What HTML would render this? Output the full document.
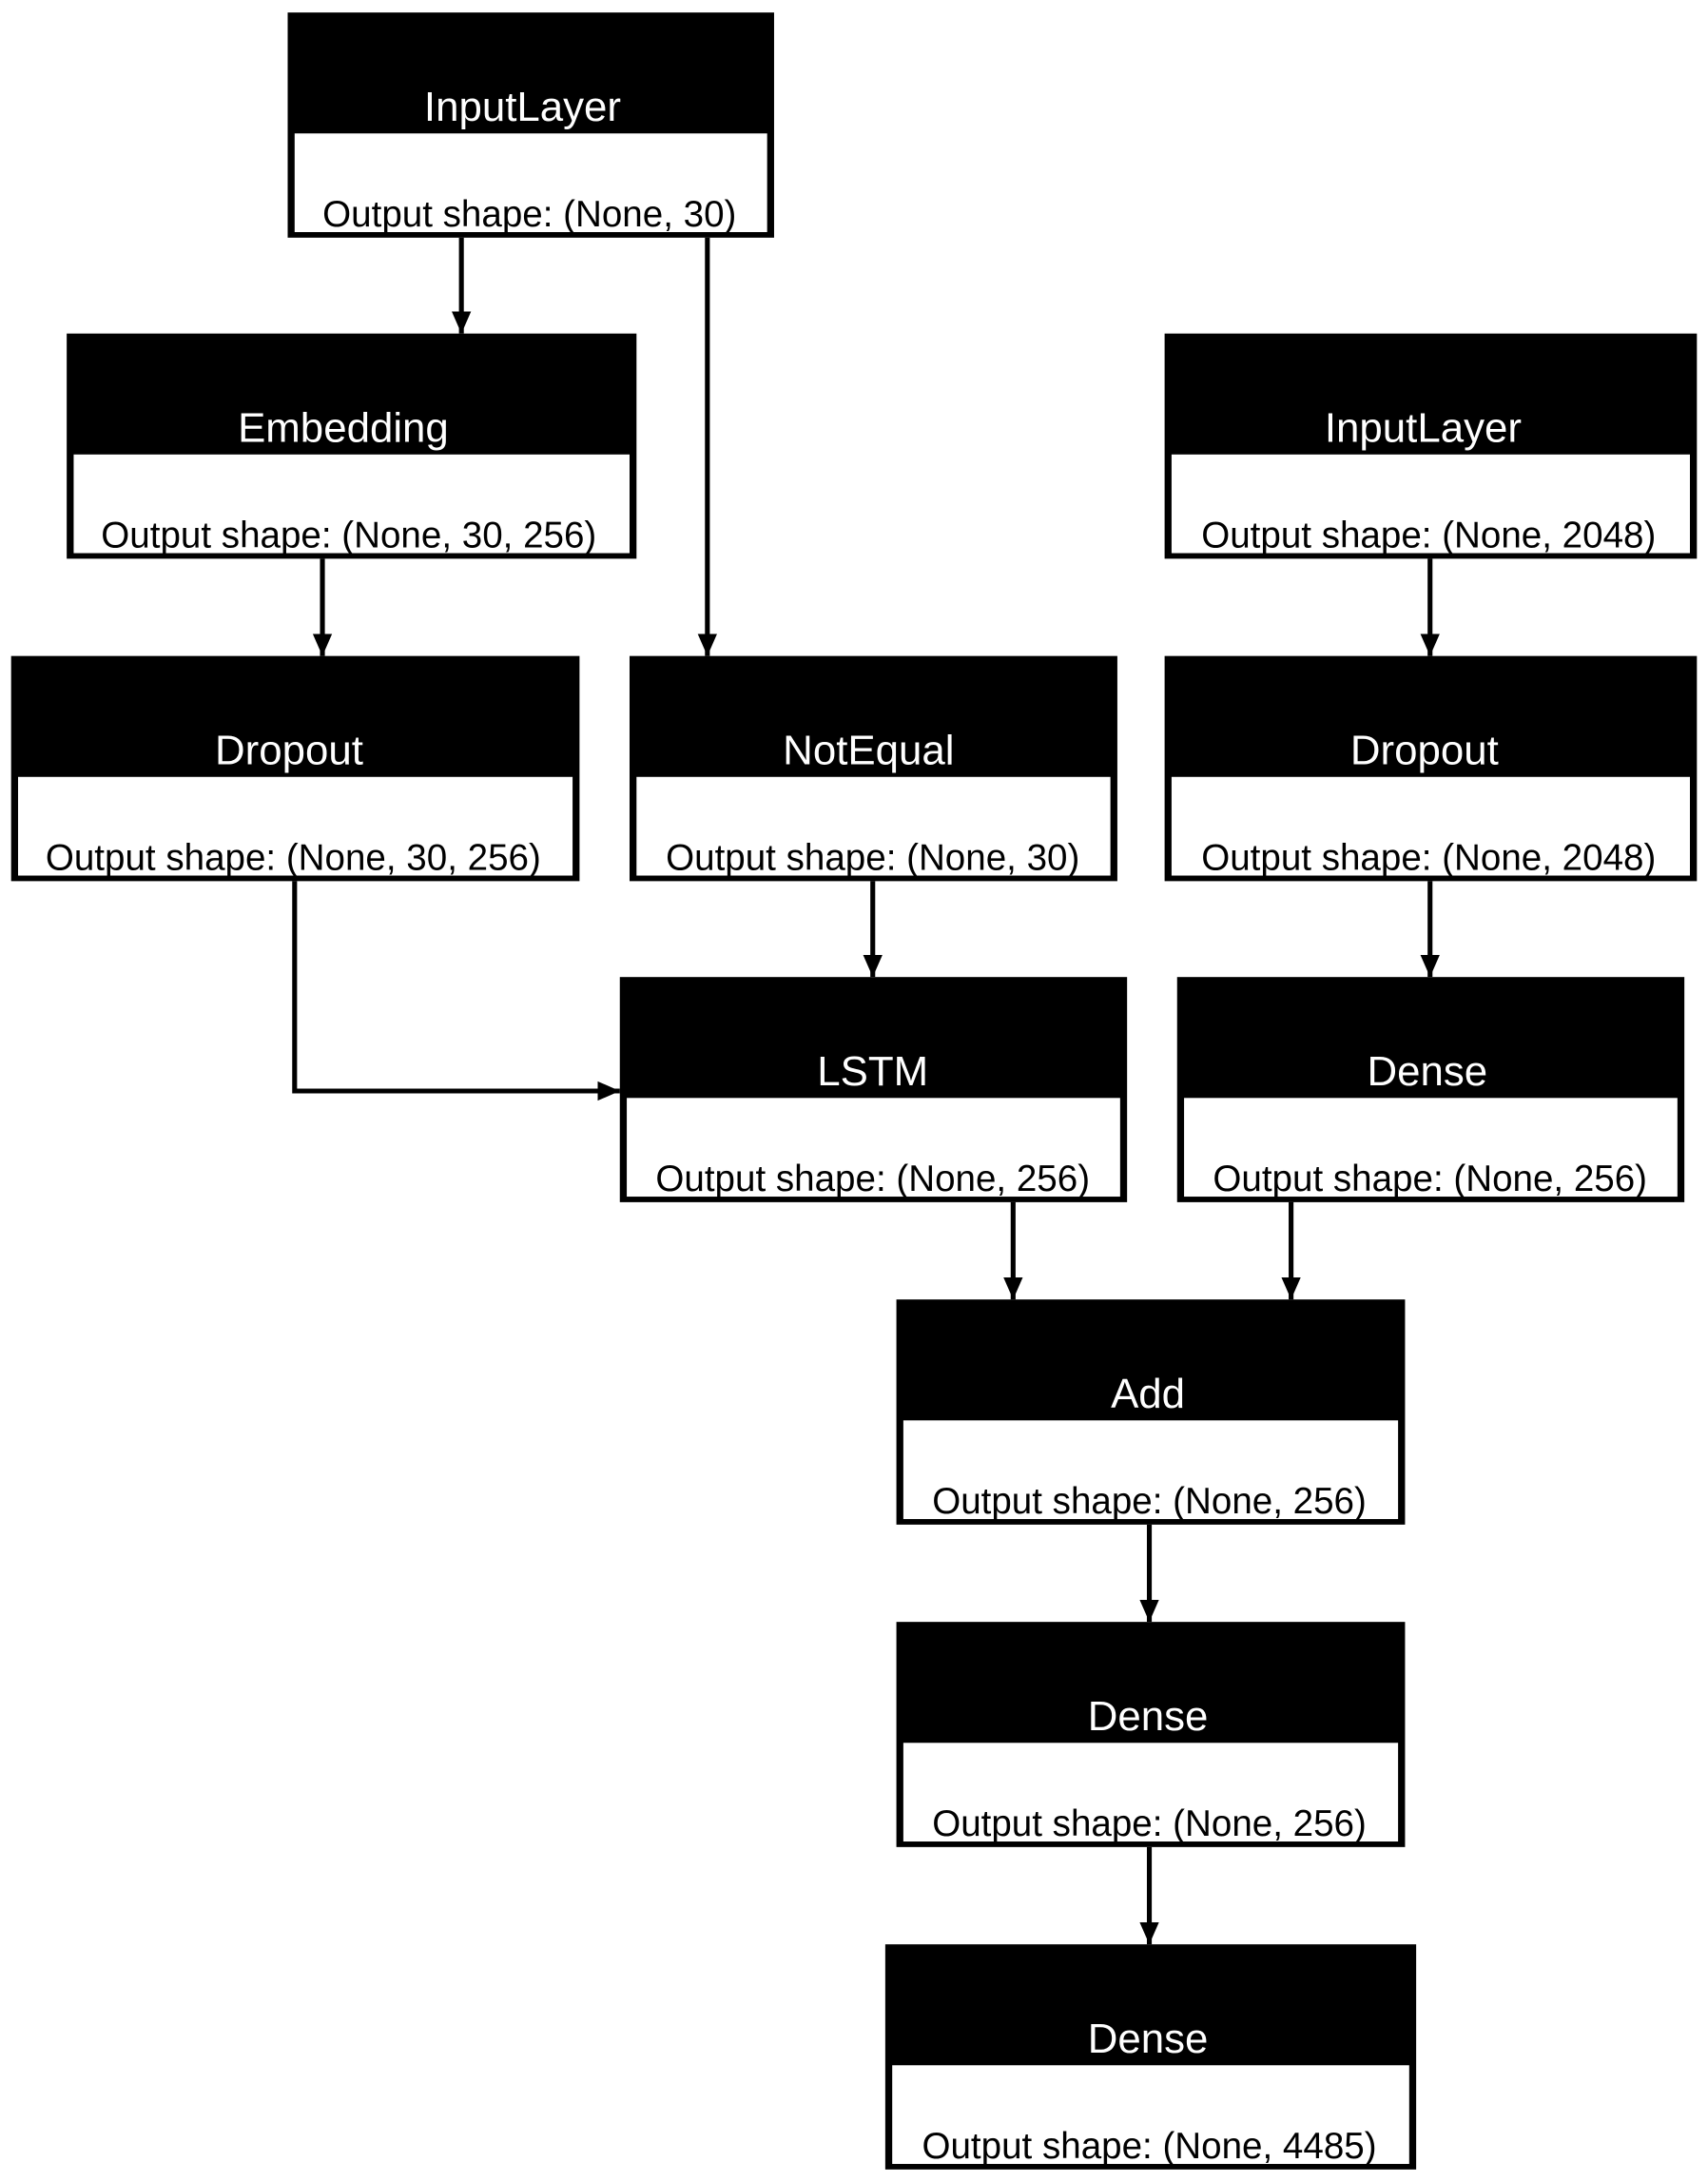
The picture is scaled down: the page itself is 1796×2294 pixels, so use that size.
<!DOCTYPE html>
<html><head><style>html,body{margin:0;padding:0;background:#fff}svg{display:block}</style></head>
<body>
<svg width="1796" height="2294" viewBox="0 0 1229 1570" preserveAspectRatio="none" xmlns="http://www.w3.org/2000/svg" font-family="Liberation Sans, Arial, sans-serif">
<defs>
<marker id="a" markerWidth="14" markerHeight="18" refX="16" refY="8" orient="auto" markerUnits="userSpaceOnUse">
<path d="M0,1 L16,8 L0,15 z" fill="#000"/></marker>
</defs>
<g stroke="#000" stroke-width="3.5" fill="none" marker-end="url(#a)">
<line x1="332" y1="171" x2="332" y2="240"/>
<line x1="509" y1="171" x2="509" y2="472"/>
<line x1="232" y1="402" x2="232" y2="472"/>
<line x1="1029" y1="402" x2="1029" y2="472"/>
<polyline points="212,634 212,785 446,785"/>
<line x1="628" y1="634" x2="628" y2="703"/>
<line x1="1029" y1="634" x2="1029" y2="703"/>
<line x1="729" y1="865" x2="729" y2="935"/>
<line x1="929" y1="865" x2="929" y2="935"/>
<line x1="827" y1="1097" x2="827" y2="1167"/>
<line x1="827" y1="1329" x2="827" y2="1399"/>
</g>
<g>
<rect x="207" y="9" width="350" height="162" fill="#000"/><rect x="212" y="96" width="340" height="71" fill="#fff"/>
<rect x="48" y="240" width="410" height="162" fill="#000"/><rect x="53" y="327" width="400" height="71" fill="#fff"/>
<rect x="838" y="240" width="383" height="162" fill="#000"/><rect x="843" y="327" width="373" height="71" fill="#fff"/>
<rect x="8" y="472" width="409" height="162" fill="#000"/><rect x="13" y="559" width="399" height="71" fill="#fff"/>
<rect x="453" y="472" width="351" height="162" fill="#000"/><rect x="458" y="559" width="341" height="71" fill="#fff"/>
<rect x="838" y="472" width="383" height="162" fill="#000"/><rect x="843" y="559" width="373" height="71" fill="#fff"/>
<rect x="446" y="703" width="365" height="162" fill="#000"/><rect x="451" y="790" width="355" height="71" fill="#fff"/>
<rect x="847" y="703" width="365" height="162" fill="#000"/><rect x="852" y="790" width="355" height="71" fill="#fff"/>
<rect x="645" y="935" width="366" height="162" fill="#000"/><rect x="650" y="1022" width="356" height="71" fill="#fff"/>
<rect x="645" y="1167" width="366" height="162" fill="#000"/><rect x="650" y="1254" width="356" height="71" fill="#fff"/>
<rect x="637" y="1399" width="382" height="162" fill="#000"/><rect x="642" y="1486" width="372" height="71" fill="#fff"/>
</g>
<g font-size="30" fill="#fff" text-anchor="middle">
<text x="376" y="87">InputLayer</text>
<text x="247" y="318">Embedding</text>
<text x="1024" y="318">InputLayer</text>
<text x="208" y="550">Dropout</text>
<text x="625" y="550">NotEqual</text>
<text x="1025" y="550">Dropout</text>
<text x="628" y="781">LSTM</text>
<text x="1027" y="781">Dense</text>
<text x="826" y="1013">Add</text>
<text x="826" y="1245">Dense</text>
<text x="826" y="1477">Dense</text>
</g>
<g font-size="26.4" fill="#000" text-anchor="middle">
<text x="381" y="163">Output shape: (None, 30)</text>
<text x="251" y="394">Output shape: (None, 30, 256)</text>
<text x="1028" y="394">Output shape: (None, 2048)</text>
<text x="211" y="626">Output shape: (None, 30, 256)</text>
<text x="628" y="626">Output shape: (None, 30)</text>
<text x="1028" y="626">Output shape: (None, 2048)</text>
<text x="628" y="857">Output shape: (None, 256)</text>
<text x="1029" y="857">Output shape: (None, 256)</text>
<text x="827" y="1089">Output shape: (None, 256)</text>
<text x="827" y="1321">Output shape: (None, 256)</text>
<text x="827" y="1553">Output shape: (None, 4485)</text>
</g>
</svg>
</body></html>
